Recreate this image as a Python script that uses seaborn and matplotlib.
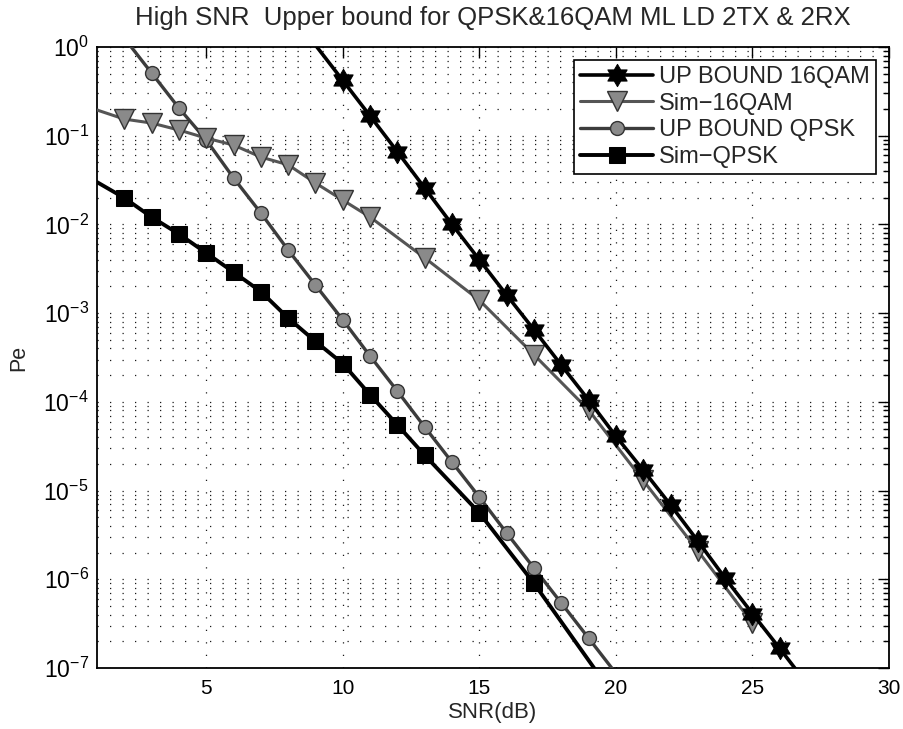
import numpy as np
import pandas as pd
import matplotlib
matplotlib.use("Agg")
import matplotlib.pyplot as plt
from matplotlib.path import Path
from matplotlib.ticker import (LogLocator, NullFormatter, FixedLocator,
                               LogFormatterSciNotation)
import seaborn as sns

# ---- data -------------------------------------------------------------
snr_ub16 = [9, 10, 11, 12, 13, 14, 15, 16, 17, 18, 19, 20, 21, 22, 23, 24, 25, 26, 27]
pe_ub16 = [1.05, 0.42, 0.167, 0.066, 0.0257, 0.0100, 0.0040, 1.6e-3, 6.5e-4, 2.6e-4,
           1.05e-4, 4.1e-5, 1.7e-5, 6.9e-6, 2.7e-6, 1.03e-6, 4.1e-7, 1.66e-7, 6.6e-8]

snr_sim16 = [1, 2, 3, 4, 5, 6, 7, 8, 9, 10, 11, 13, 15, 17, 19, 21, 23, 25]
pe_sim16 = [0.195, 0.154, 0.139, 0.116, 0.094, 0.0785, 0.0575, 0.047, 0.0293, 0.0188,
            0.0121, 4.2e-3, 1.4e-3, 3.4e-4, 8.1e-5, 1.3e-5, 2.1e-6, 3.2e-7]

snr_ubq = [2, 3, 4, 5, 6, 7, 8, 9, 10, 11, 12, 13, 14, 15, 16, 17, 18, 19, 20]
pe_ubq = [1.26, 0.509, 0.205, 0.0895, 0.0334, 0.01345, 5.14e-3, 2.07e-3, 8.4e-4, 3.28e-4,
          1.32e-4, 5.2e-5, 2.09e-5, 8.45e-6, 3.32e-6, 1.34e-6, 5.4e-7, 2.17e-7, 8.7e-8]

snr_simq = [1, 2, 3, 4, 5, 6, 7, 8, 9, 10, 11, 12, 13, 15, 17, 20]
pe_simq = [0.030, 0.0199, 0.0121, 7.8e-3, 4.77e-3, 2.9e-3, 1.75e-3, 8.8e-4, 4.8e-4,
           2.7e-4, 1.2e-4, 5.5e-5, 2.5e-5, 5.6e-6, 9.0e-7, 4.5e-8]

labels = ["UP BOUND 16QAM", "Sim\u221216QAM", "UP BOUND QPSK", "Sim\u2212QPSK"]
x_ticks = [5, 10, 15, 20, 25, 30]
y_ticks = [1e-7, 1e-6, 1e-5, 1e-4, 1e-3, 1e-2, 1e-1, 1e0]

XLIM = (1, 30)
YLIM = (1e-7, 1)

# ---- style ------------------------------------------------------------
sns.set_theme(style="white")
plt.rcParams["font.family"] = ["Liberation Sans", "DejaVu Sans"]
plt.rcParams["mathtext.fontset"] = "custom"
plt.rcParams["mathtext.rm"] = "Liberation Sans"
plt.rcParams["mathtext.it"] = "Liberation Sans"
plt.rcParams["mathtext.default"] = "regular"

# six-pointed star (hexagram) marker
ang = np.pi / 2 + np.arange(12) * np.pi / 6
rad = np.where(np.arange(12) % 2 == 0, 1.0, 0.58)
hex_verts = np.column_stack([rad * np.cos(ang), rad * np.sin(ang)])
hex_verts = np.vstack([hex_verts, hex_verts[:1]])
hexagram = Path(hex_verts, closed=True)

fig = plt.figure(figsize=(9.04, 7.29), dpi=100)
ax = fig.add_axes([0.1073, 0.0837, 0.8761, 0.8518])
ax.set_yscale("log")


def inside(xs, ys):
    xs = np.asarray(xs, float)
    ys = np.asarray(ys, float)
    return list((xs > XLIM[0]) & (xs <= XLIM[1]) & (ys >= YLIM[0]) & (ys <= YLIM[1]))


series = [
    (snr_ub16, pe_ub16, dict(color="black", lw=2.6, marker=hexagram, ms=16,
                             mfc="black", mec="black", zorder=5)),
    (snr_sim16, pe_sim16, dict(color="#555555", lw=2.2, marker="v", ms=14,
                               mfc="#8a8a8a", mec="#333333", mew=1.0, zorder=4)),
    (snr_ubq, pe_ubq, dict(color="#3c3c3c", lw=2.4, marker="o", ms=10,
                           mfc="#8a8a8a", mec="#333333", mew=1.0, zorder=3)),
    (snr_simq, pe_simq, dict(color="black", lw=2.8, marker="s", ms=11.5,
                             mfc="black", mec="black", zorder=6)),
]

for (xs, ys, kw), lab in zip(series, labels):
    sns.lineplot(x=xs, y=ys, ax=ax, label=lab, sort=False, estimator=None,
                 markevery=inside(xs, ys), **kw)

ax.set_xlim(*XLIM)
ax.set_ylim(*YLIM)

# ticks: inside, on all four sides
ax.xaxis.set_major_locator(FixedLocator(x_ticks))
ax.yaxis.set_major_locator(FixedLocator(y_ticks))
ax.yaxis.set_major_formatter(LogFormatterSciNotation(base=10))
minor_y = [m * d for d in y_ticks[:-1] for m in range(2, 10)]
ax.yaxis.set_minor_locator(FixedLocator(minor_y))
ax.yaxis.set_minor_formatter(NullFormatter())
ax.tick_params(which="both", direction="in", top=True, right=True,
               colors="black", width=1.0)
ax.tick_params(which="major", length=8)
ax.tick_params(which="minor", length=4)
ax.tick_params(axis="x", labelsize=15, pad=8)
ax.tick_params(axis="y", labelsize=16.5, pad=6)

# dotted grid
grid_kw = dict(color="black", lw=0.9, linestyle=(0, (1, 9)), alpha=0.9)
ax.grid(True, which="major", axis="both", **grid_kw)
ax.grid(True, which="minor", axis="y", **grid_kw)
ax.set_axisbelow(True)

for sp in ax.spines.values():
    sp.set_color("black")
    sp.set_linewidth(1.3)

ax.set_title("High SNR  Upper bound for QPSK&16QAM ML LD 2TX & 2RX",
             fontsize=18.5, pad=16)
ax.set_xlabel("SNR(dB)", fontsize=16, labelpad=3)
ax.set_ylabel("Pe", fontsize=15.5, labelpad=10)

leg = ax.legend(loc="upper right", fontsize=17, frameon=True, fancybox=False,
                edgecolor="black", framealpha=1.0, handlelength=3.1,
                borderaxespad=0.55, borderpad=0.25, labelspacing=0.2,
                handletextpad=0.25)
leg.get_frame().set_linewidth(1.2)

fig.savefig("out.png", dpi=100)
